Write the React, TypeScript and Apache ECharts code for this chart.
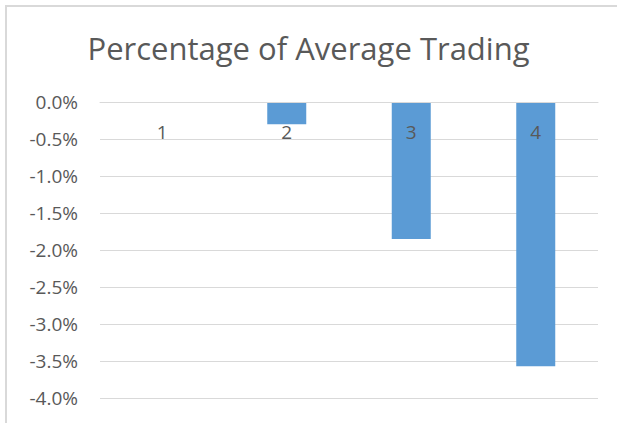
import React, { useEffect, useRef } from "react";
import * as echarts from "echarts";

const categories: string[] = ["1", "2", "3", "4"];
const values: number[] = [0, -0.3, -1.85, -3.57];
const yMin = -4;
const yMax = 0;
const yStep = 0.5;
const titleText = "Percentage of Average Trading";

export default function App() {
  const ref = useRef<HTMLDivElement>(null);
  useEffect(() => {
    if (!ref.current) return;
    const chart = echarts.init(ref.current, undefined, { renderer: "svg" });
    const font = "'Open Sans', 'Noto Sans', sans-serif";
    chart.setOption({
      animation: false,
      backgroundColor: "#ffffff",
      title: {
        text: titleText,
        left: "center",
        top: 27,
        textStyle: { color: "#595959", fontSize: 31, fontWeight: "normal", fontFamily: font },
      },
      grid: {
        left: 100,
        right: 19,
        top: 102,
        bottom: 25,
        containLabel: false,
        outerBoundsMode: "none",
      },
      xAxis: {
        type: "category",
        data: categories,
        position: "top",
        z: 10,
        axisLine: { show: true, lineStyle: { color: "#d9d9d9", width: 1 } },
        axisTick: { show: false },
        axisLabel: { inside: true, color: "#595959", fontSize: 19, fontFamily: font, margin: 20 },
      },
      yAxis: {
        type: "value",
        min: yMin,
        max: yMax,
        interval: yStep,
        axisLine: { show: false },
        axisTick: { show: false },
        splitLine: { lineStyle: { color: "#d9d9d9", width: 1 } },
        axisLabel: {
          color: "#595959",
          fontSize: 19,
          fontFamily: font,
          margin: 22,
          formatter: (v: number) => v.toFixed(1) + "%",
        },
      },
      series: [
        {
          type: "bar",
          data: values,
          barWidth: 39,
          itemStyle: { color: "#5b9bd5" },
        },
      ],
    });
    return () => chart.dispose();
  }, []);
  return (
    <div style={{ position: "fixed", left: 0, top: 0, width: 617, height: 423, overflow: "hidden" }}>
      <div ref={ref} style={{ position: "absolute", left: 0, top: 0, width: 617, height: 423 }} />
      <div
        style={{
          position: "absolute",
          left: 5,
          top: 5,
          width: 610,
          height: 416,
          borderLeft: "2px solid #d9d9d9",
          borderTop: "2px solid #d9d9d9",
          pointerEvents: "none",
        }}
      />
    </div>
  );
}
